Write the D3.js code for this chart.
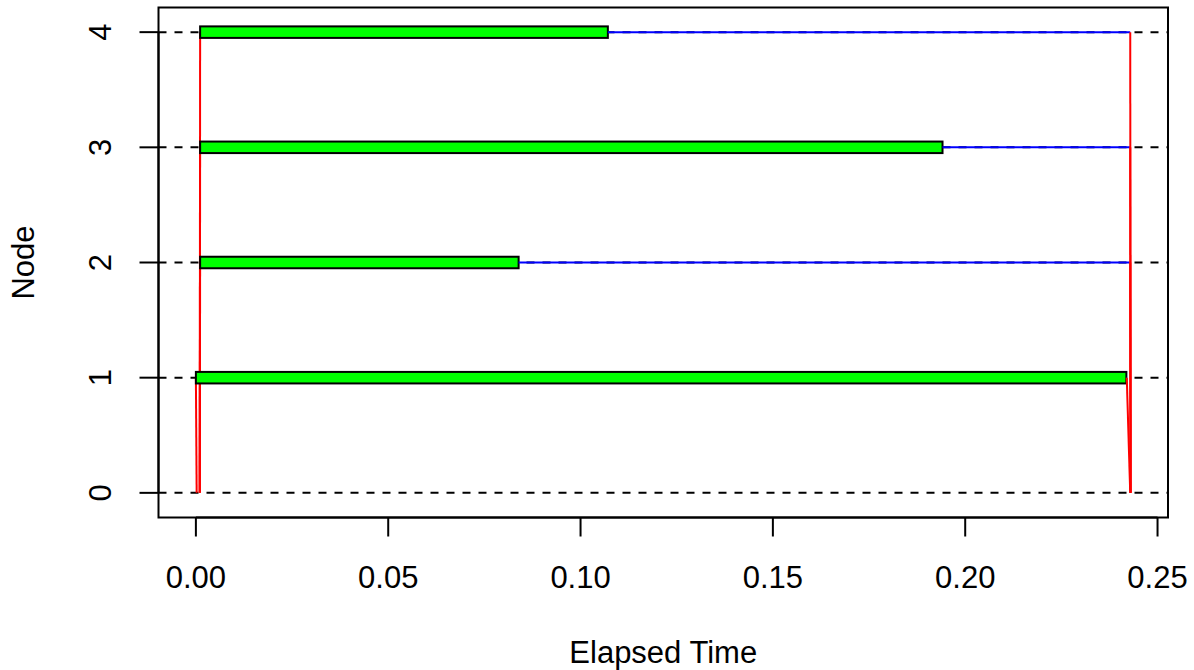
<!DOCTYPE html>
<html>
<head>
<meta charset="utf-8">
<script src="https://cdn.jsdelivr.net/npm/d3@7"></script>
<style>
  html, body { margin: 0; padding: 0; background: #fff; }
  svg { display: block; }
  text { font-family: "Liberation Sans", Arial, Helvetica, sans-serif; fill: #000; }
</style>
</head>
<body>
<svg id="chart" width="1194" height="670"></svg>
<script>
// ---- data ----
const nodes      = [1, 2, 3, 4];
const sendTime   = [0.0002, 0.0010, 0.0010, 0.0010];   // master sends (y = 0)
const execStart  = [0.0000, 0.0011, 0.0011, 0.0011];   // worker starts work
const execEnd    = [0.2419, 0.0839, 0.1941, 0.1071];   // worker finishes work
const returnTime = [0.2420, 0.2429, 0.2429, 0.2429];   // worker returns result
const recvTime   = [0.2429, 0.2430, 0.2430, 0.2430];   // master receives (y = 0)
const elapsed    = 0.2430;
const xTicks     = [0, 0.05, 0.10, 0.15, 0.20, 0.25];
const xTickLabels = ["0.00", "0.05", "0.10", "0.15", "0.20", "0.25"];
const yTicks     = [0, 1, 2, 3, 4];
const xLabel = "Elapsed Time";
const yLabel = "Node";

// ---- layout ----
const box = { left: 158.5, right: 1168, top: 7.5, bottom: 517.5 };
const fontSize = 31;
const lw = 2;
const w2 = 0.05;

const svg = d3.select("#chart");

// R-style 4% axis extension
const xr = [0, elapsed], xpad = (xr[1] - xr[0]) * 0.04;
const yr = [0 - w2, nodes.length + w2], ypad = (yr[1] - yr[0]) * 0.04;
const x = d3.scaleLinear().domain([xr[0] - xpad, xr[1] + xpad]).range([box.left, box.right]);
const y = d3.scaleLinear().domain([yr[0] - ypad, yr[1] + ypad]).range([box.bottom, box.top]);

const rows = nodes.map((n, i) => ({
  node: n, send: sendTime[i], start: execStart[i], end: execEnd[i],
  ret: returnTime[i], recv: recvTime[i]
}));

const plot = svg.append("g");

// dashed reference lines
plot.selectAll("line.ref").data(yTicks).join("line")
  .attr("class", "ref")
  .attr("x1", box.left).attr("x2", box.right)
  .attr("y1", d => y(d)).attr("y2", d => y(d))
  .attr("stroke", "#000").attr("stroke-width", lw)
  .attr("stroke-dasharray", "8,8");

// red: master -> worker
plot.selectAll("line.sendl").data(rows).join("line")
  .attr("class", "sendl")
  .attr("x1", d => x(d.send)).attr("y1", y(0))
  .attr("x2", d => x(d.start)).attr("y2", d => y(d.node))
  .attr("stroke", "#ff0000").attr("stroke-width", lw);

// green rects
plot.selectAll("rect.work").data(rows).join("rect")
  .attr("class", "work")
  .attr("x", d => x(d.start))
  .attr("y", d => y(d.node + w2))
  .attr("width", d => x(d.end) - x(d.start))
  .attr("height", d => y(d.node - w2) - y(d.node + w2))
  .attr("fill", "#00ff00").attr("stroke", "#000").attr("stroke-width", lw);

// blue: idle
plot.selectAll("line.idle").data(rows).join("line")
  .attr("class", "idle")
  .attr("x1", d => x(d.end)).attr("y1", d => y(d.node))
  .attr("x2", d => x(d.ret)).attr("y2", d => y(d.node))
  .attr("stroke", "#0000ff").attr("stroke-width", lw);

// red: worker -> master
plot.selectAll("line.recvl").data(rows).join("line")
  .attr("class", "recvl")
  .attr("x1", d => x(d.ret)).attr("y1", d => y(d.node))
  .attr("x2", d => x(d.recv)).attr("y2", y(0))
  .attr("stroke", "#ff0000").attr("stroke-width", lw);

// box
svg.append("rect")
  .attr("x", box.left).attr("y", box.top)
  .attr("width", box.right - box.left).attr("height", box.bottom - box.top)
  .attr("fill", "none").attr("stroke", "#000").attr("stroke-width", lw);

// x axis
const tickLen = 19;
const xAxis = svg.append("g");
xAxis.append("line")
  .attr("x1", x(xTicks[0])).attr("x2", x(xTicks[xTicks.length - 1]))
  .attr("y1", box.bottom).attr("y2", box.bottom)
  .attr("stroke", "#000").attr("stroke-width", lw);
xAxis.selectAll("line.tk").data(xTicks).join("line")
  .attr("class", "tk")
  .attr("x1", d => x(d)).attr("x2", d => x(d))
  .attr("y1", box.bottom).attr("y2", box.bottom + tickLen)
  .attr("stroke", "#000").attr("stroke-width", lw);
xAxis.selectAll("text").data(xTicks).join("text")
  .attr("x", d => x(d)).attr("y", 588)
  .attr("text-anchor", "middle").attr("font-size", fontSize)
  .text((d, i) => xTickLabels[i]);

// y axis
const yAxis = svg.append("g");
yAxis.append("line")
  .attr("x1", box.left).attr("x2", box.left)
  .attr("y1", y(yTicks[0])).attr("y2", y(yTicks[yTicks.length - 1]))
  .attr("stroke", "#000").attr("stroke-width", lw);
yAxis.selectAll("line.tk").data(yTicks).join("line")
  .attr("class", "tk")
  .attr("x1", box.left - tickLen).attr("x2", box.left)
  .attr("y1", d => y(d)).attr("y2", d => y(d))
  .attr("stroke", "#000").attr("stroke-width", lw);
yAxis.selectAll("text").data(yTicks).join("text")
  .attr("transform", d => `translate(111,${y(d)}) rotate(-90)`)
  .attr("text-anchor", "middle").attr("font-size", fontSize)
  .text(d => d);

// axis titles
svg.append("text")
  .attr("x", (box.left + box.right) / 2).attr("y", 663)
  .attr("text-anchor", "middle").attr("font-size", fontSize)
  .text(xLabel);
svg.append("text")
  .attr("transform", `translate(34,${(box.top + box.bottom) / 2}) rotate(-90)`)
  .attr("text-anchor", "middle").attr("font-size", fontSize)
  .text(yLabel);
</script>
</body>
</html>
